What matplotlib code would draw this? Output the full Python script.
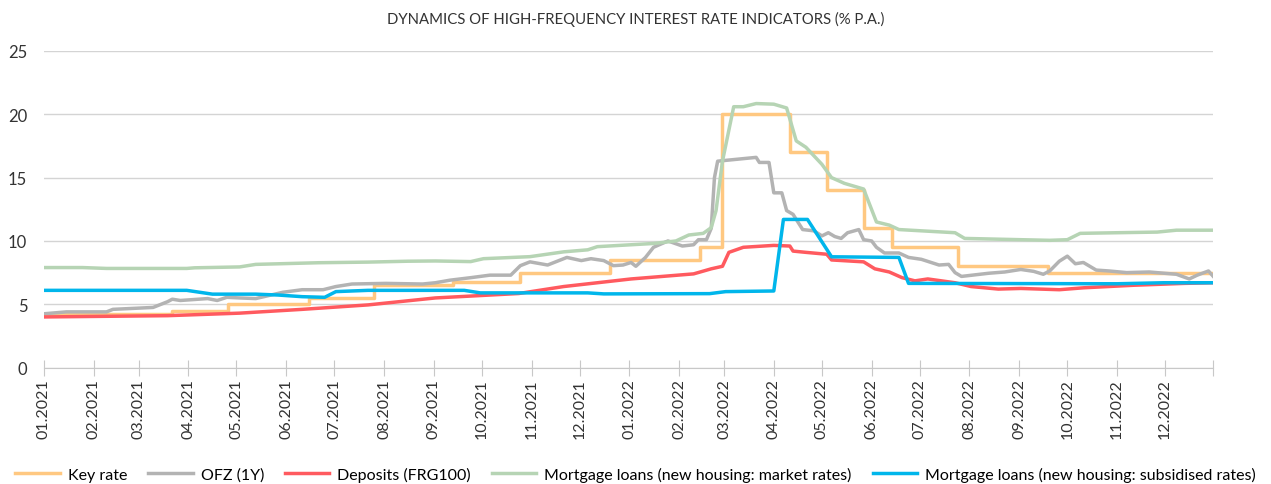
import pandas as pd
import matplotlib.pyplot as plt

plt.rcParams['font.family'] = ['Lato', 'DejaVu Sans']

# key rate (step changes)
key_dates = ['2021-01-01', '2021-03-22', '2021-04-26', '2021-06-15', '2021-07-26',
             '2021-09-13', '2021-10-25', '2021-12-20', '2022-02-14', '2022-02-28',
             '2022-04-11', '2022-05-04', '2022-05-27', '2022-06-14', '2022-07-25',
             '2022-09-19', '2022-12-31']
key_values = [4.25, 4.5, 5.0, 5.5, 6.5, 6.75, 7.5, 8.5, 9.5, 20.0,
              17.0, 14.0, 11.0, 9.5, 8.0, 7.5, 7.5]

# OFZ 1Y
ofz_dates = ['2021-01-01', '2021-01-15', '2021-02-09', '2021-02-13', '2021-03-10', '2021-03-19',
             '2021-03-22', '2021-03-27', '2021-04-13', '2021-04-19', '2021-04-25', '2021-05-03',
             '2021-05-13', '2021-05-30', '2021-06-11', '2021-06-24', '2021-07-02', '2021-07-12',
             '2021-08-02', '2021-08-25', '2021-09-02', '2021-09-11', '2021-09-24', '2021-10-06',
             '2021-10-19', '2021-10-25', '2021-10-31', '2021-11-11', '2021-11-23', '2021-12-02',
             '2021-12-08', '2021-12-16', '2021-12-22', '2021-12-28', '2022-01-02', '2022-01-05',
             '2022-01-11', '2022-01-16', '2022-01-25', '2022-02-03', '2022-02-10', '2022-02-13',
             '2022-02-18', '2022-02-21', '2022-02-23', '2022-02-25', '2022-03-21', '2022-03-23',
             '2022-03-29', '2022-04-01', '2022-04-06', '2022-04-09', '2022-04-13', '2022-04-19',
             '2022-04-26', '2022-05-01', '2022-05-05', '2022-05-09', '2022-05-13', '2022-05-17',
             '2022-05-24', '2022-05-27', '2022-06-01', '2022-06-04', '2022-06-09', '2022-06-18',
             '2022-06-24', '2022-07-02', '2022-07-13', '2022-07-19', '2022-07-23', '2022-07-27',
             '2022-08-13', '2022-08-23', '2022-09-02', '2022-09-10', '2022-09-16', '2022-09-20',
             '2022-09-26', '2022-10-01', '2022-10-06', '2022-10-11', '2022-10-19', '2022-10-27',
             '2022-11-07', '2022-11-21', '2022-12-08', '2022-12-16', '2022-12-21', '2022-12-28',
             '2022-12-31']
ofz_values = [4.25, 4.4, 4.4, 4.6, 4.75, 5.2,
              5.4, 5.3, 5.45, 5.3, 5.55, 5.5,
              5.45, 5.95, 6.15, 6.15, 6.4, 6.6,
              6.65, 6.6, 6.7, 6.9, 7.1, 7.3,
              7.3, 8.05, 8.35, 8.1, 8.7, 8.45,
              8.6, 8.45, 8.05, 8.1, 8.3, 8.0,
              8.7, 9.5, 10.0, 9.6, 9.7, 10.1,
              10.1, 11.0, 15.0, 16.3, 16.6, 16.2,
              16.2, 13.8, 13.8, 12.4, 12.1, 10.9,
              10.8, 10.4, 10.65, 10.35, 10.2, 10.65,
              10.9, 10.1, 10.0, 9.5, 9.05, 9.05,
              8.7, 8.55, 8.1, 8.15, 7.5, 7.2,
              7.45, 7.55, 7.75, 7.6, 7.37, 7.63,
              8.4, 8.8, 8.2, 8.3, 7.7, 7.63,
              7.5, 7.55, 7.37, 7.0, 7.3, 7.63,
              7.2]

# deposits FRG100
dep_dates = ['2021-01-01', '2021-03-19', '2021-05-03', '2021-06-11', '2021-07-22', '2021-09-02',
             '2021-10-24', '2021-11-21', '2022-01-02', '2022-02-10', '2022-02-21', '2022-02-28',
             '2022-03-04', '2022-03-13', '2022-04-01', '2022-04-11', '2022-04-13', '2022-04-21',
             '2022-05-04', '2022-05-07', '2022-05-27', '2022-06-03', '2022-06-12', '2022-06-20',
             '2022-06-28', '2022-07-06', '2022-07-23', '2022-08-02', '2022-08-19', '2022-09-02',
             '2022-09-26', '2022-10-11', '2022-11-11', '2022-12-13', '2022-12-31']
dep_values = [4.0, 4.1, 4.3, 4.6, 4.95, 5.5,
              5.85, 6.4, 7.0, 7.4, 7.8, 8.0,
              9.1, 9.5, 9.65, 9.6, 9.2, 9.1,
              8.95, 8.5, 8.35, 7.8, 7.55, 7.1,
              6.85, 7.0, 6.7, 6.4, 6.2, 6.25,
              6.15, 6.3, 6.5, 6.65, 6.7]

# mortgage loans, market rates
mkt_dates = ['2021-01-01', '2021-01-25', '2021-02-09', '2021-03-31', '2021-04-05', '2021-05-03',
             '2021-05-13', '2021-06-21', '2021-07-22', '2021-08-16', '2021-09-02', '2021-09-24',
             '2021-10-02', '2021-10-31', '2021-11-21', '2021-12-06', '2021-12-12', '2022-01-02',
             '2022-01-16', '2022-01-30', '2022-02-07', '2022-02-16', '2022-02-21', '2022-02-24',
             '2022-02-28', '2022-03-07', '2022-03-13', '2022-03-21', '2022-04-01', '2022-04-09',
             '2022-04-15', '2022-04-21', '2022-05-01', '2022-05-07', '2022-05-15', '2022-05-27',
             '2022-06-04', '2022-06-12', '2022-06-18', '2022-07-02', '2022-07-23', '2022-07-29',
             '2022-09-02', '2022-09-20', '2022-10-01', '2022-10-09', '2022-11-01', '2022-11-26',
             '2022-12-08', '2022-12-31']
mkt_values = [7.9, 7.9, 7.83, 7.83, 7.88, 7.95,
              8.15, 8.28, 8.33, 8.4, 8.42, 8.37,
              8.6, 8.76, 9.14, 9.3, 9.55, 9.7,
              9.8, 10.0, 10.47, 10.6, 11.05, 12.4,
              16.3, 20.6, 20.6, 20.85, 20.8, 20.5,
              17.9, 17.4, 16.05, 15.0, 14.55, 14.1,
              11.5, 11.25, 10.9, 10.8, 10.65, 10.2,
              10.1, 10.05, 10.1, 10.6, 10.65, 10.7,
              10.85, 10.85]

# mortgage loans, subsidised rates
sub_dates = ['2021-01-01', '2021-03-31', '2021-04-16', '2021-05-13', '2021-05-27', '2021-06-11',
             '2021-06-25', '2021-07-02', '2021-07-22', '2021-09-20', '2021-09-30', '2021-12-06',
             '2021-12-16', '2022-02-20', '2022-03-02', '2022-04-01', '2022-04-07', '2022-04-22',
             '2022-05-07', '2022-06-18', '2022-06-24', '2022-11-01', '2022-11-30', '2022-12-31']
sub_values = [6.1, 6.1, 5.8, 5.8, 5.73, 5.6,
              5.55, 6.0, 6.1, 6.1, 5.9, 5.9,
              5.82, 5.84, 6.0, 6.05, 11.7, 11.7,
              8.75, 8.7, 6.65, 6.62, 6.7, 6.7]

series = [
    ('Key rate', key_dates, key_values, '#FFC881', True),
    ('OFZ (1Y)', ofz_dates, ofz_values, '#B3B3B3', False),
    ('Deposits (FRG100)', dep_dates, dep_values, '#FF5A5F', False),
    ('Mortgage loans (new housing: market rates)', mkt_dates, mkt_values, '#B6D4B4', False),
    ('Mortgage loans (new housing: subsidised rates)', sub_dates, sub_values, '#00B6EB', False),
]

fig = plt.figure(figsize=(12.71, 4.85), dpi=100)
ax = fig.add_axes([0.0346, 0.24, 0.92, 0.6528])

for name, d, v, c, is_step in series:
    d = pd.to_datetime(d)
    if is_step:
        ax.step(d, v, where='post', color=c, lw=2.5, label=name, zorder=2)
    else:
        ax.plot(d, v, color=c, lw=2.5, label=name, zorder=3 if 'subsid' in name else 2)

ax.set_xlim(pd.Timestamp('2021-01-01'), pd.Timestamp('2022-12-31'))
ax.set_ylim(0, 25)
ax.set_yticks([0, 5, 10, 15, 20, 25])
ax.yaxis.grid(True, color='#D4D4D4', lw=1)
ax.set_axisbelow(True)
for s in ['top', 'right', 'left']:
    ax.spines[s].set_visible(False)
ax.spines['bottom'].set_color('#C8C8C8')
ax.tick_params(axis='y', length=0, labelsize=12, colors='#333333', pad=12)

ticks = pd.date_range('2021-01-01', '2022-12-01', freq='MS').tolist() + [pd.Timestamp('2022-12-31')]
ax.set_xticks(ticks)
ax.set_xticklabels([t.strftime('%m.%Y') for t in ticks[:-1]] + [''], rotation=90)
ax.tick_params(axis='x', direction='inout', length=11, color='#C8C8C8', labelsize=11.5,
               labelcolor='#333333', pad=2)

fig.suptitle('DYNAMICS OF HIGH-FREQUENCY INTEREST RATE INDICATORS (% P.A.)',
             y=0.975, fontsize=10.7, color='#333333')

fig.legend(loc='lower center', bbox_to_anchor=(0.5, -0.025), ncol=5, frameon=False,
           fontsize=11.5, handlelength=2.8, columnspacing=1.3, handletextpad=0.5)

fig.savefig('out.png', dpi=100)
